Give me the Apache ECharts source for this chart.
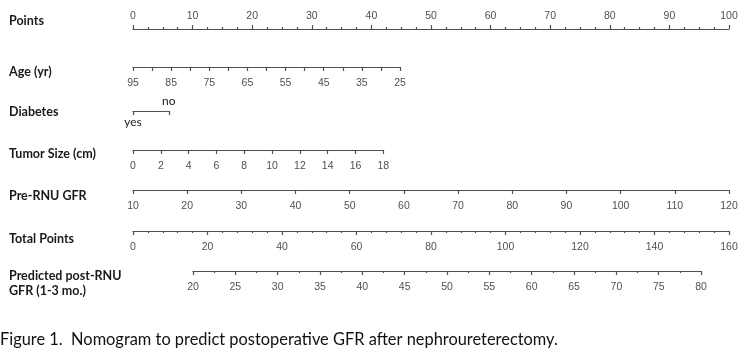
<!DOCTYPE html>
<html>
<head>
<meta charset="utf-8">
<script src="https://cdn.jsdelivr.net/npm/echarts@6/dist/echarts.min.js"></script>
<style>html,body{margin:0;padding:0;background:#fff}#c{width:751px;height:356px}</style>
</head>
<body>
<div id="c"></div>
<script>
// ---- data ----
const rowLabels = ['Points', 'Age (yr)', 'Diabetes', 'Tumor Size (cm)', 'Pre-RNU GFR', 'Total Points', 'Predicted post-RNU\nGFR (1-3 mo.)'];
const pointsRange = [0, 100];          // points scale
const pointsStep = 10, pointsMinor = 4;
const ageRange = [25, 95];             // reversed: 95 -> 0 pts
const agePoints = [44.8, 0];           // points at ageRange ends
const ageStep = 5, ageLabelStep = 10;
const diabetesCats = ['yes', 'no'];
const diabetesPoints = [0, 6];
const tumorRange = [0, 18];
const tumorPoints = [0, 42];
const tumorStep = 2;
const gfrRange = [10, 120];
const gfrPoints = [0, 100];
const gfrStep = 10;
const totalRange = [0, 160];
const totalStep = 20, totalMinor = 5;
const predRange = [20, 80];
const predTotal = [16.1, 152.5];       // total points at predRange ends
const predStep = 5, predMinor = 2;
const caption = 'Figure 1.  Nomogram to predict postoperative GFR after nephroureterectomy.';

// ---- layout ----
const X0 = 133, PX_PER_PT = 5.96;
const lineY = [28, 67, 111, 150, 190, 231, 271];
const labelY = [21, 72, 112, 154, 196, 239, [276, 291]];
const tickFont = {color: '#505050', fontFamily: '"Liberation Sans Narrow","Liberation Sans",Arial', fontSize: 10.5};
const lineStyle = {color: '#505050', width: 1.2};

const grids = [], xAxes = [], yAxes = [], series = [];
function addRow(leftPts, rightPts, y, axisCfg, pos) {
  const gi = grids.length;
  const l = X0 + leftPts * PX_PER_PT, r = X0 + rightPts * PX_PER_PT;
  grids.push({left: l, width: r - l, top: pos === 'top' ? y : y - 1, height: 1});
  yAxes.push({gridIndex: gi, show: false, min: 0, max: 1});
  const ax = Object.assign({gridIndex: gi, position: pos || 'bottom'}, axisCfg);
  xAxes.push(ax);
  series.push({type: 'scatter', xAxisIndex: xAxes.length - 1, yAxisIndex: gi, data: [], silent: true});
  return gi;
}
function valAxis(range, step, opts) {
  return Object.assign({
    type: 'value', min: range[0], max: range[1], interval: step,
    splitLine: {show: false},
    axisLine: {show: true, lineStyle: lineStyle},
    axisTick: {show: true, length: 4, lineStyle: lineStyle},
    axisLabel: Object.assign({margin: 11, showMinLabel: true, showMaxLabel: true}, tickFont)
  }, opts || {});
}

// Points (top)
addRow(0, 100, lineY[0], valAxis(pointsRange, pointsStep, {
  axisLabel: Object.assign({margin: 6}, tickFont),
  minorTick: {show: true, splitNumber: pointsMinor, length: 2, lineStyle: lineStyle}
}), 'top');
// Age
addRow(agePoints[1], agePoints[0], lineY[1], valAxis(ageRange, ageStep, {
  inverse: true,
  axisLabel: Object.assign({margin: 11, formatter: v => ((v - ageRange[0]) % ageLabelStep === 0 ? String(v) : '')}, tickFont)
}));
// Diabetes
const dg = addRow(diabetesPoints[0], diabetesPoints[1], lineY[2], {
  type: 'category', data: diabetesCats, boundaryGap: false,
  axisLine: {show: true, lineStyle: lineStyle},
  axisTick: {show: true, length: 4, interval: 0, lineStyle: lineStyle},
  axisLabel: {interval: 0, margin: 5, color: '#222', fontFamily: 'Lato', fontSize: 12,
    formatter: v => (v === diabetesCats[0] ? v : '')}
});
xAxes.push({gridIndex: dg, position: 'top', type: 'category', data: diabetesCats, boundaryGap: false,
  axisLine: {show: false}, axisTick: {show: false},
  axisLabel: {interval: 0, margin: 3, color: '#222', fontFamily: 'Lato', fontSize: 12,
    formatter: v => (v === diabetesCats[1] ? v : '')}});
// Tumor
addRow(tumorPoints[0], tumorPoints[1], lineY[3], valAxis(tumorRange, tumorStep));
// Pre-RNU GFR
addRow(gfrPoints[0], gfrPoints[1], lineY[4], valAxis(gfrRange, gfrStep));
// Total points
addRow(0, 100, lineY[5], valAxis(totalRange, totalStep, {
  minorTick: {show: true, splitNumber: totalMinor, length: 2, lineStyle: lineStyle}
}));
// Predicted
const ptsPerTotal = 100 / (totalRange[1] - totalRange[0]);
addRow(predTotal[0] * ptsPerTotal, predTotal[1] * ptsPerTotal, lineY[6], valAxis(predRange, predStep, {
  minorTick: {show: true, splitNumber: predMinor, length: 2, lineStyle: lineStyle}
}));

// row labels + caption
const graphic = [];
rowLabels.forEach((t, i) => {
  const lines = t.split('\n');
  const ys = Array.isArray(labelY[i]) ? labelY[i] : [labelY[i]];
  lines.forEach((ln, k) => graphic.push({type: 'text', x: 9, y: ys[k],
    style: {text: ln, fill: '#1a1a1a', font: 'bold 12.5px Lato', textVerticalAlign: 'middle'}}));
});
graphic.push({type: 'text', x: 0, y: 340, style: {text: caption, fill: '#111', font: '16.4px Lato', textVerticalAlign: 'middle'}});

const chart = echarts.init(document.getElementById('c'), null, {renderer: 'canvas'});
chart.setOption({animation: false, grid: grids, xAxis: xAxes, yAxis: yAxes, series: series, graphic: graphic});
</script>
</body>
</html>
